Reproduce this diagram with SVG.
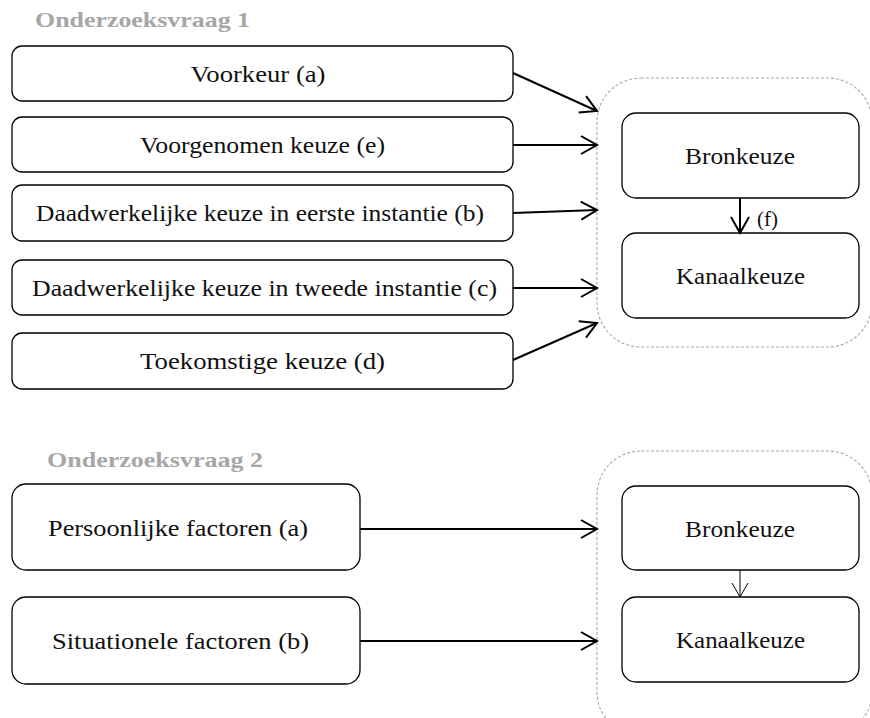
<svg xmlns="http://www.w3.org/2000/svg" width="870" height="718" viewBox="0 0 870 718">
<style>
.box{fill:#fff;stroke:#000;stroke-width:1.3}
.grp{fill:none;stroke:#a8a8a8;stroke-width:1.1;stroke-dasharray:3 2}
.t{font-family:'Liberation Serif','Times New Roman',serif;font-size:23px;fill:#111;text-anchor:middle}
.title{font-family:'Liberation Serif','Times New Roman',serif;font-size:21px;font-weight:bold;fill:#a6a6a6}
.c{fill:none;stroke:#000;stroke-width:2}
.c2{fill:none;stroke:#000;stroke-width:1}
</style>
<defs>
<marker id="ah" markerUnits="userSpaceOnUse" viewBox="-20 -12 24 24" markerWidth="24" markerHeight="24" refX="0" refY="0" orient="auto">
<path d="M-16,-9 L0,0 L-16,9" fill="none" stroke="#000" stroke-width="2"/>
</marker>
<marker id="ah2" markerUnits="userSpaceOnUse" viewBox="-20 -12 24 24" markerWidth="24" markerHeight="24" refX="0" refY="0" orient="auto">
<path d="M-14,-8 L0,0 L-14,8" fill="none" stroke="#000" stroke-width="1"/>
</marker>
</defs>

<text class="title" x="35" y="27" textLength="215" lengthAdjust="spacingAndGlyphs">Onderzoeksvraag 1</text>
<text class="title" x="47" y="467" textLength="216" lengthAdjust="spacingAndGlyphs">Onderzoeksvraag 2</text>

<g id="group1"><rect class="grp" x="597" y="78" width="275" height="269" rx="44"/></g>
<g id="group2"><rect class="grp" x="597" y="451" width="275" height="285" rx="44"/></g>

<g id="voorkeur"><rect class="box" x="12" y="46" width="501" height="55" rx="10"/><text class="t" x="258" y="82" textLength="135" lengthAdjust="spacingAndGlyphs">Voorkeur (a)</text></g>
<g id="voorgenomen"><rect class="box" x="12" y="117" width="501" height="55" rx="10"/><text class="t" x="262.5" y="153" textLength="245" lengthAdjust="spacingAndGlyphs">Voorgenomen keuze (e)</text></g>
<g id="eerste"><rect class="box" x="12" y="185" width="501" height="56" rx="10"/><text class="t" x="260" y="221" textLength="448" lengthAdjust="spacingAndGlyphs">Daadwerkelijke keuze in eerste instantie (b)</text></g>
<g id="tweede"><rect class="box" x="12" y="260" width="501" height="55" rx="10"/><text class="t" x="264.5" y="296" textLength="465" lengthAdjust="spacingAndGlyphs">Daadwerkelijke keuze in tweede instantie (c)</text></g>
<g id="toekomstige"><rect class="box" x="12" y="333" width="501" height="56" rx="10"/><text class="t" x="262.5" y="369" textLength="245" lengthAdjust="spacingAndGlyphs">Toekomstige keuze (d)</text></g>

<g id="bronkeuze1"><rect class="box" x="622" y="113" width="237" height="85" rx="14"/><text class="t" x="740" y="164" textLength="110" lengthAdjust="spacingAndGlyphs">Bronkeuze</text></g>
<g id="kanaalkeuze1"><rect class="box" x="622" y="233" width="237" height="85" rx="14"/><text class="t" x="740.5" y="284" textLength="129" lengthAdjust="spacingAndGlyphs">Kanaalkeuze</text></g>

<g id="persoonlijk"><rect class="box" x="12" y="484" width="348" height="86" rx="14"/><text class="t" x="178" y="536" textLength="260" lengthAdjust="spacingAndGlyphs">Persoonlijke factoren (a)</text></g>
<g id="situationeel"><rect class="box" x="12" y="597" width="348" height="87" rx="14"/><text class="t" x="180.5" y="649" textLength="257" lengthAdjust="spacingAndGlyphs">Situationele factoren (b)</text></g>

<g id="bronkeuze2"><rect class="box" x="622" y="486" width="237" height="84" rx="14"/><text class="t" x="740" y="537" textLength="110" lengthAdjust="spacingAndGlyphs">Bronkeuze</text></g>
<g id="kanaalkeuze2"><rect class="box" x="622" y="597" width="237" height="85" rx="14"/><text class="t" x="740.5" y="648" textLength="129" lengthAdjust="spacingAndGlyphs">Kanaalkeuze</text></g>

<g id="connectors">
<line class="c" x1="513" y1="73" x2="597" y2="111" marker-end="url(#ah)"/>
<line class="c" x1="513" y1="145" x2="597" y2="145" marker-end="url(#ah)"/>
<line class="c" x1="513" y1="213" x2="597" y2="210" marker-end="url(#ah)"/>
<line class="c" x1="513" y1="288" x2="597" y2="288" marker-end="url(#ah)"/>
<line class="c" x1="513" y1="360" x2="597" y2="323" marker-end="url(#ah)"/>
<line class="c" x1="740" y1="198" x2="740" y2="233" marker-end="url(#ah)"/>
<text x="757" y="226" style="font-family:'Liberation Serif','Times New Roman',serif;font-size:21px;fill:#111">(f)</text>
<line class="c" x1="360" y1="529" x2="597" y2="529" marker-end="url(#ah)"/>
<line class="c" x1="360" y1="641" x2="597" y2="641" marker-end="url(#ah)"/>
<line class="c2" x1="740" y1="570" x2="740" y2="597" marker-end="url(#ah2)"/>
</g>
</svg>
